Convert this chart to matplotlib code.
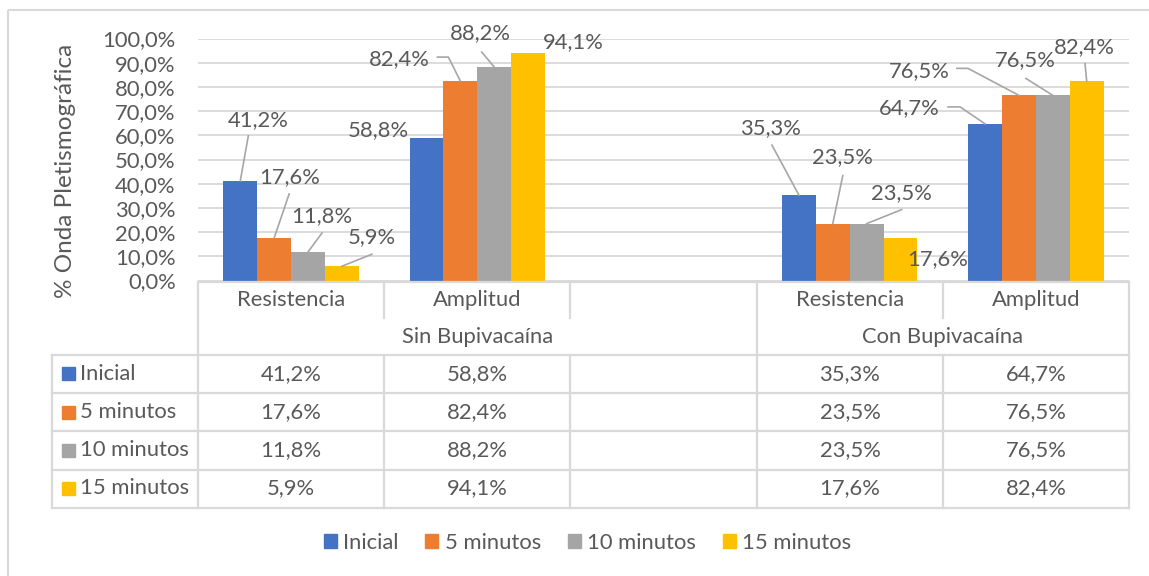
import numpy as np
import matplotlib
matplotlib.use('Agg')
import matplotlib.pyplot as plt
from matplotlib.patches import Rectangle, Patch

plt.rcParams['font.family'] = ['Lato', 'DejaVu Sans']

# datos
categorias = ['Resistencia', 'Amplitud', '', 'Resistencia', 'Amplitud']
grupos = ['Sin Bupivacaína', 'Con Bupivacaína']
grupo_rango = [(0, 3), (3, 5)]
series = ['Inicial', '5 minutos', '10 minutos', '15 minutos']
inicial = [41.2, 58.8, np.nan, 35.3, 64.7]
min5 = [17.6, 82.4, np.nan, 23.5, 76.5]
min10 = [11.8, 88.2, np.nan, 23.5, 76.5]
min15 = [5.9, 94.1, np.nan, 17.6, 82.4]
valores = [inicial, min5, min10, min15]
colores = ['#4472C4', '#ED7D31', '#A5A5A5', '#FFC000']

gris_txt = '#595959'
gris_lin = '#D9D9D9'
fs = 15.8

W, H = 1149, 576
fig = plt.figure(figsize=(W / 100, H / 100), dpi=100, facecolor='white')

# capa en pixeles para la tabla, etiquetas y bordes
ov = fig.add_axes([0, 0, 1, 1], zorder=5)
ov.set_xlim(0, W)
ov.set_ylim(H, 0)
ov.axis('off')
ov.patch.set_alpha(0)

# area del grafico
x0, x1, ytop, ybot = 198, 1129, 38.5, 280.5
ax = fig.add_axes([x0 / W, 1 - ybot / H, (x1 - x0) / W, (ybot - ytop) / H])
ax.set_xlim(-0.5, 4.5)
ax.set_ylim(0, 100)
ancho = 1 / 5.5
for i, (nom, vals, c) in enumerate(zip(series, valores, colores)):
    ax.bar(np.arange(5) + (i - 1.5) * ancho, vals, width=ancho, color=c, zorder=3)

ax.set_yticks(np.arange(0, 101, 10))
ax.set_yticklabels([f'{t:.1f}%'.replace('.', ',') for t in np.arange(0, 101, 10)],
                   fontsize=fs, color=gris_txt)
ax.tick_params(axis='y', length=0, pad=16)
ax.set_xticks([])
ax.grid(axis='y', color=gris_lin, linewidth=1.3, zorder=0)
for s in ax.spines.values():
    s.set_visible(False)
ax.patch.set_alpha(0)

ov.text(65, 171, '% Onda Pletismográfica', rotation=90, ha='center', va='center',
        fontsize=17.5, color=gris_txt)

# etiquetas de datos: desplazamiento (px) y guias
desp = {
    (0, 0): ((18, -61), [(8, -45)]),
    (0, 1): ((15, -61), [(15, -44)]),
    (0, 2): ((14, -36), [(14, -19)]),
    (0, 3): ((30, -29), [(30, -12)]),
    (1, 0): ((-48, -8), None),
    (1, 1): ((-61, -22), [(-23, -24), (-12, -24)]),
    (1, 2): ((-14, -34), [(-12.5, -15)]),
    (1, 3): ((45, -11), None),
    (3, 0): ((-28, -67), [(-27, -50)]),
    (3, 1): ((10, -66.5), [(10, -48)]),
    (3, 2): ((35, -30.5), [(35, -14)]),
    (3, 3): ((37.5, 21), None),
    (4, 0): ((-76, -15.4), [(-37, -17), (-25, -17)]),
    (4, 1): ((-100, -24.6), [(-62, -27), (-51, -27)]),
    (4, 2): ((-27.5, -35.3), [(-27, -17)]),
    (4, 3): ((-2.7, -34.3), [(-1.7, -17.7)]),
}
for (k, i), ((dx, dy), guia) in desp.items():
    v = valores[i][k]
    px, py = ax.transData.transform((k + (i - 1.5) * ancho, v))
    py = H - py
    ov.text(px + dx, py + dy, f'{v:.1f}%'.replace('.', ','), ha='center', va='center',
            fontsize=fs, color=gris_txt)
    if guia:
        pts = [(px + a, py + b) for a, b in guia] + [(px, py)]
        ov.plot([p[0] for p in pts], [p[1] for p in pts], color='#A6A6A6', lw=1.2)

# tabla de datos
bordes = [52, 198, 384, 570, 757, 943, 1129]
y_cat, y_grp, y_tab = 281.5, 318, 354.5
filas = [354.5, 393, 431, 469.5, 507.5]
kw = dict(color=gris_lin, lw=1.6, solid_capstyle='projecting')
ov.plot([198, 1129], [y_cat, y_cat], **kw)
for x in [384, 570, 943]:
    ov.plot([x, x], [y_cat, y_grp], **kw)
for x in [198, 757, 1129]:
    ov.plot([x, x], [y_cat, y_tab], **kw)
for y in filas:
    ov.plot([52, 1129], [y, y], **kw)
for x in bordes:
    ov.plot([x, x], [filas[0], filas[-1]], **kw)

for k, cat in enumerate(categorias):
    ov.text((bordes[k + 1] + bordes[k + 2]) / 2, 299.5, cat, ha='center', va='center',
            fontsize=fs, color=gris_txt)
for g, (a, b) in zip(grupos, grupo_rango):
    ov.text((bordes[a + 1] + bordes[b + 1]) / 2, 337, g, ha='center', va='center',
            fontsize=fs, color=gris_txt)
for i, (nom, vals, c) in enumerate(zip(series, valores, colores)):
    yc = (filas[i] + filas[i + 1]) / 2
    ov.add_patch(Rectangle((62, yc - 6.5), 13, 13, color=c))
    ov.text(80, yc, nom, ha='left', va='center', fontsize=fs, color=gris_txt)
    for k, v in enumerate(vals):
        if not np.isnan(v):
            ov.text((bordes[k + 1] + bordes[k + 2]) / 2, yc, f'{v:.1f}%'.replace('.', ','),
                    ha='center', va='center', fontsize=fs, color=gris_txt)

# borde del area del grafico
ov.add_patch(Rectangle((8, 10), 1200, 600, fill=False, edgecolor=gris_lin, lw=1.5))

# leyenda
handles = [Patch(color=c, label=n) for n, c in zip(series, colores)]
leg = fig.legend(handles=handles, loc='center', bbox_to_anchor=(587.5 / W, 1 - 543 / H),
                 ncol=4, frameon=False, fontsize=fs, handlelength=0.6, handleheight=0.6,
                 handletextpad=0.3, columnspacing=1.2)
for t in leg.get_texts():
    t.set_color(gris_txt)

fig.savefig('out.png', dpi=100)
